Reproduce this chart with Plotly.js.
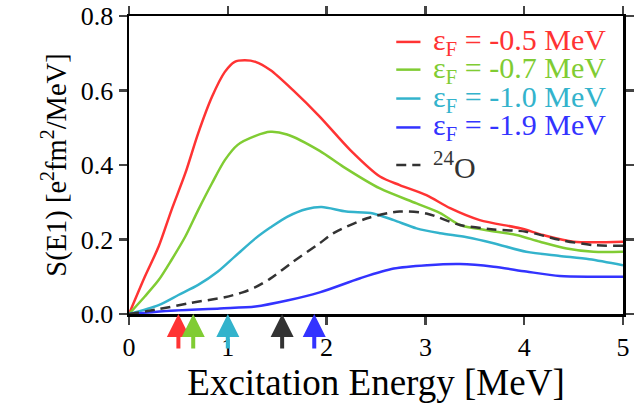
<!DOCTYPE html>
<html>
<head>
<meta charset="utf-8">
<script src="https://cdn.plot.ly/plotly-3.0.1.min.js"></script>
<style>html,body{margin:0;padding:0;background:#fff;}#chart{width:644px;height:403px;}</style>
</head>
<body>
<div id="chart"></div>
<script>
// Data
const seriesNames = ["ε<sub>F</sub> = -0.5 MeV", "ε<sub>F</sub> = -0.7 MeV", "ε<sub>F</sub> = -1.0 MeV", "ε<sub>F</sub> = -1.9 MeV", "<sup>24</sup>O"];
const seriesColors = ["#ff3333", "#80cc33", "#33b3cc", "#3333ff", "#333333"];

const xRed = [0, 0.16, 0.3, 0.43, 0.57, 0.70, 0.84, 0.97, 1.07, 1.17, 1.28, 1.43, 1.66, 1.93, 2.24, 2.54, 2.74, 3.01, 3.25, 3.55, 3.96, 4.19, 4.5, 5.0];
const yRed = [0, 0.1, 0.181, 0.279, 0.378, 0.485, 0.583, 0.65, 0.677, 0.681, 0.677, 0.655, 0.601, 0.53, 0.44, 0.369, 0.346, 0.319, 0.284, 0.252, 0.23, 0.212, 0.194, 0.194];

const xGreen = [0, 0.16, 0.3, 0.43, 0.57, 0.70, 0.84, 0.97, 1.1, 1.28, 1.43, 1.6, 1.93, 2.17, 2.54, 2.91, 3.15, 3.35, 3.62, 3.92, 4.16, 4.43, 4.7, 5.0];
const yGreen = [0, 0.047, 0.091, 0.145, 0.208, 0.279, 0.351, 0.413, 0.454, 0.478, 0.489, 0.482, 0.438, 0.395, 0.337, 0.297, 0.271, 0.239, 0.225, 0.212, 0.194, 0.176, 0.167, 0.167];

const xCyan = [0, 0.3, 0.5, 0.7, 0.9, 1.07, 1.28, 1.43, 1.6, 1.8, 1.95, 2.2, 2.47, 2.68, 2.91, 3.15, 3.42, 3.69, 4.02, 4.36, 4.66, 5.0];
const yCyan = [0, 0.024, 0.051, 0.078, 0.114, 0.154, 0.203, 0.232, 0.261, 0.282, 0.287, 0.275, 0.27, 0.252, 0.23, 0.217, 0.206, 0.19, 0.167, 0.156, 0.147, 0.131];

const xBlue = [0, 0.42, 0.92, 1.28, 1.6, 1.93, 2.34, 2.68, 3.02, 3.35, 3.69, 4.02, 4.36, 4.7, 5.0];
const yBlue = [0, 0.009, 0.015, 0.02, 0.036, 0.058, 0.096, 0.122, 0.131, 0.134, 0.127, 0.114, 0.102, 0.1, 0.1];

const xO24 = [0, 0.3, 0.63, 0.97, 1.15, 1.28, 1.43, 1.66, 1.93, 2.07, 2.41, 2.74, 3.01, 3.35, 3.69, 4.02, 4.36, 4.7, 5.0];
const yO24 = [0, 0.013, 0.03, 0.045, 0.058, 0.072, 0.095, 0.14, 0.19, 0.217, 0.257, 0.275, 0.27, 0.239, 0.227, 0.221, 0.199, 0.185, 0.183];

// threshold arrows (x positions) and their colours
const arrowX = [0.5, 0.65, 1.0, 1.55, 1.875];
const arrowColors = ["#ff3333", "#80cc33", "#33b3cc", "#333333", "#3333ff"];

const xs = [xRed, xGreen, xCyan, xBlue, xO24];
const ys = [yRed, yGreen, yCyan, yBlue, yO24];
const dashes = ['solid', 'solid', 'solid', 'solid', '10px,6px'];

const FAM = 'Liberation Serif, Times New Roman, serif';

const traces = xs.map((x, i) => ({
  x: x, y: ys[i], type: 'scatter', mode: 'lines', name: seriesNames[i], showlegend: false,
  line: {color: seriesColors[i], width: 2.5, shape: 'spline', smoothing: 0.8, dash: dashes[i]},
  cliponaxis: false
}));

// custom legend (tight rows as in the reference), positioned in paper coordinates
const legRowY = [0.913, 0.820, 0.723, 0.626, 0.500];
const legLineX0 = 0.541, legLineX1 = 0.590, legTextX = 0.612;
const shapes = seriesNames.map((n, i) => ({
  type: 'line', xref: 'paper', yref: 'paper', x0: legLineX0, x1: legLineX1, y0: legRowY[i], y1: legRowY[i],
  line: {color: seriesColors[i], width: 2.5, dash: dashes[i]}
}));
const legendAnn = seriesNames.map((n, i) => ({
  xref: 'paper', yref: 'paper', x: legTextX, y: legRowY[i], xanchor: 'left', yanchor: 'middle',
  text: n, showarrow: false, font: {family: FAM, size: 30, color: seriesColors[i]}
}));

const arrowAnn = arrowX.map((x, i) => ({
  x: x, y: 0, xref: 'x', yref: 'y', text: '', showarrow: true,
  ax: 0, ay: 36, arrowhead: 2, arrowsize: 1.15, arrowwidth: 4, arrowcolor: arrowColors[i], standoff: 0
}));

const layout = {
  width: 644, height: 403,
  margin: {l: 129, r: 21, t: 16, b: 89},
  paper_bgcolor: '#fff', plot_bgcolor: '#fff',
  font: {family: FAM, size: 26, color: '#000'},
  showlegend: false,
  xaxis: {range: [0, 5], tickvals: [0, 1, 2, 3, 4, 5], ticktext: ['0', '1', '2', '3', '4', '5'],
          showline: true, linewidth: 2.5, linecolor: '#000', mirror: 'ticks', ticks: 'outside', ticklen: 8, tickwidth: 2.5,
          showgrid: false, zeroline: false, tickfont: {family: FAM, size: 26, color: '#000'},
          title: {text: 'Excitation Energy [MeV]', font: {family: FAM, size: 37, color: '#000'}, standoff: 2}},
  yaxis: {range: [0, 0.8], tickvals: [0, 0.2, 0.4, 0.6, 0.8], ticktext: ['0.0', '0.2', '0.4', '0.6', '0.8'],
          showline: true, linewidth: 2.5, linecolor: '#000', mirror: 'ticks', ticks: 'outside', ticklen: 8, tickwidth: 2.5,
          showgrid: false, zeroline: false, tickfont: {family: FAM, size: 26, color: '#000'},
          title: {text: 'S(E1) [e<sup>2</sup>fm<sup>2</sup>/MeV]', font: {family: FAM, size: 28.5, color: '#000'}, standoff: 6}},
  shapes: shapes,
  annotations: arrowAnn.concat(legendAnn)
};

Plotly.newPlot('chart', traces, layout, {displayModeBar: false, staticPlot: true});
</script>
</body>
</html>
